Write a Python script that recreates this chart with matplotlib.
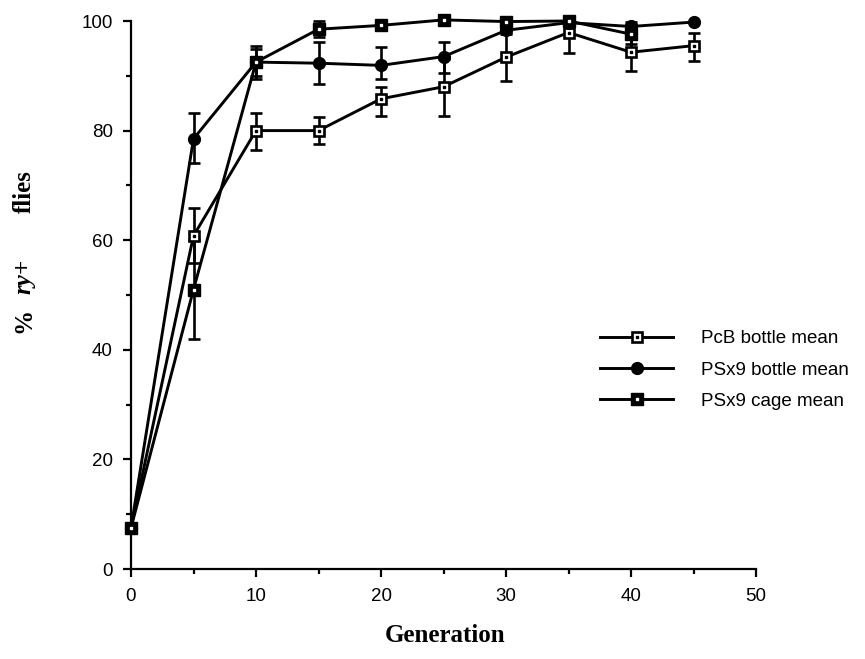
import matplotlib
matplotlib.use("Agg")
import matplotlib.pyplot as plt
from matplotlib.ticker import MultipleLocator

# ---- data ----
generations = [0, 5, 10, 15, 20, 25, 30, 35, 40, 45]
pcb_bottle = [7.5, 60.8, 80.0, 80.0, 85.8, 88.0, 93.4, 97.9, 94.3, 95.5]
pcb_lo = [0, 5.0, 3.6, 2.4, 3.2, 5.3, 4.3, 3.7, 3.5, 2.8]
pcb_hi = [0, 5.0, 3.3, 2.5, 2.1, 5.0, 4.3, 2.0, 3.5, 2.4]

psx9_gens = [0, 5, 10, 15, 20, 25, 30, 35, 40, 45]
psx9_bottle = [7.5, 78.5, 92.5, 92.3, 91.9, 93.5, 98.3, 99.7, 99.0, 99.8]
psx9_lo = [0, 4.5, 2.5, 3.8, 2.5, 3.0, 0.5, 0.3, 0.8, 0]
psx9_hi = [0, 4.8, 2.4, 3.9, 3.4, 2.6, 0.5, 0.3, 0.8, 0]

cage_gens = [0, 5, 10, 15, 20, 25, 30, 35, 40]
psx9_cage = [7.5, 51.0, 92.5, 98.5, 99.2, 100.2, 99.9, 100.0, 97.6]
cage_err = [0, 9.0, 3.0, 1.5, 0.8, 0.5, 0.4, 0.5, 1.8]

labels = ["PcB bottle mean", "PSx9 bottle mean", "PSx9 cage mean"]
xticks = [0, 10, 20, 30, 40, 50]
yticks = [0, 20, 40, 60, 80, 100]

W, H = 865, 659
fig = plt.figure(figsize=(W / 100, H / 100), dpi=100)
ax = fig.add_axes([131 / W, 1 - 569 / H, (756 - 131) / W, (569 - 21) / H])

lw = 2.1
ekw = dict(ecolor="black", elinewidth=1.9, capsize=4.5, capthick=1.9, clip_on=False, zorder=2)

# PcB bottle: open squares with centre dot
ax.errorbar(generations, pcb_bottle, yerr=[pcb_lo, pcb_hi], fmt="none", **ekw)
l1, = ax.plot(generations, pcb_bottle, color="black", lw=lw, marker="s", ms=7.5,
              mfc="white", mec="black", mew=1.9, clip_on=False, zorder=3)
d1, = ax.plot(generations, pcb_bottle, ls="none", marker="s", ms=1.6, mfc="black",
              mec="black", clip_on=False, zorder=4)

# PSx9 bottle: filled circles
ax.errorbar(psx9_gens, psx9_bottle, yerr=[psx9_lo, psx9_hi], fmt="none", **ekw)
l2, = ax.plot(psx9_gens, psx9_bottle, color="black", lw=lw, marker="o", ms=8.5,
              mfc="black", mec="black", clip_on=False, zorder=3)

# PSx9 cage: filled squares with white centre dot
ax.errorbar(cage_gens, psx9_cage, yerr=cage_err, fmt="none", **ekw)
l3, = ax.plot(cage_gens, psx9_cage, color="black", lw=lw, marker="s", ms=8.5,
              mfc="black", mec="black", clip_on=False, zorder=3)
d3, = ax.plot(cage_gens, psx9_cage, ls="none", marker="s", ms=1.6, mfc="white",
              mec="white", clip_on=False, zorder=4)

ax.set_xlim(0, 50)
ax.set_ylim(0, 100)
for s in ("top", "right"):
    ax.spines[s].set_visible(False)
for s in ("left", "bottom"):
    ax.spines[s].set_linewidth(1.6)

ax.set_xticks(xticks)
ax.set_yticks(yticks)
ax.xaxis.set_minor_locator(MultipleLocator(5))
ax.yaxis.set_minor_locator(MultipleLocator(10))
ax.tick_params(which="major", direction="out", length=6, width=1.6, color="black")
ax.tick_params(which="minor", direction="out", length=3.5, width=1.6, color="black")
ax.tick_params(axis="y", which="major", pad=7)
ax.tick_params(axis="x", which="major", pad=8)
for t in ax.get_xticklabels():
    t.set_fontfamily("Liberation Sans")
    t.set_fontsize(13.5)
for t in ax.get_yticklabels():
    t.set_fontfamily("Liberation Sans")
    t.set_fontsize(13.5)

leg = ax.legend([(l1, d1), (l2,), (l3, d3)], labels, loc="center left",
                bbox_to_anchor=(600 / W, 1 - 370 / H), bbox_transform=fig.transFigure,
                frameon=False, borderpad=0, borderaxespad=0, handlelength=3.9,
                handletextpad=1.5, labelspacing=0.75, numpoints=1,
                prop={"family": "Liberation Sans", "size": 13.5})

# axis labels
fig.text(445 / W, 1 - 636 / H, "Generation", ha="center", va="center",
         family="Liberation Serif", weight="bold", fontsize=18)
fig.text(24 / W, 1 - 320 / H, "%", ha="center", va="center", rotation=90,
         family="Liberation Serif", weight="bold", fontsize=18)
fig.text(24 / W, 1 - 276 / H, "ry+", ha="center", va="center", rotation=90,
         family="Liberation Serif", weight="bold", style="italic", fontsize=18)
fig.text(24 / W, 1 - 192 / H, "flies", ha="center", va="center", rotation=90,
         family="Liberation Serif", weight="bold", fontsize=18)

fig.savefig("out.png", dpi=100)
